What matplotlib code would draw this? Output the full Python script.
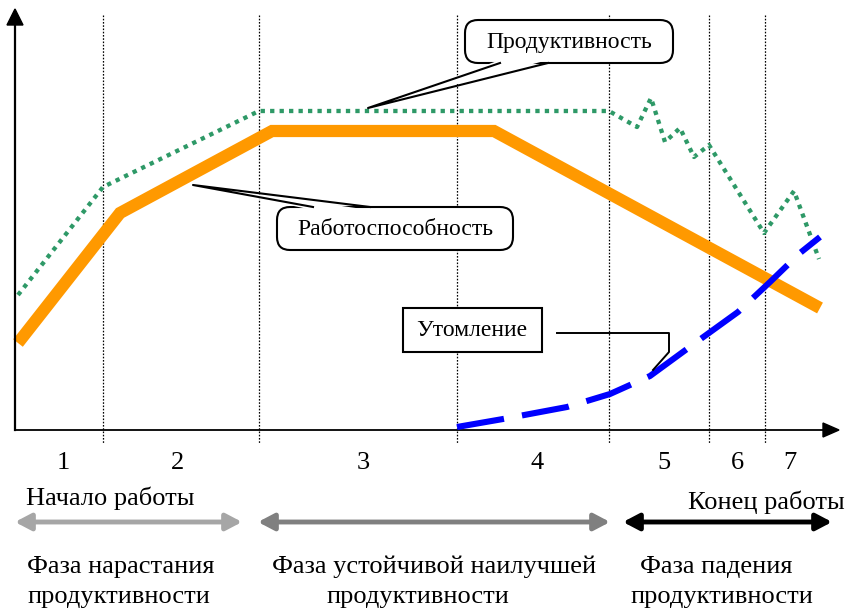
import matplotlib
matplotlib.use("Agg")
import matplotlib.pyplot as plt
from matplotlib.patches import FancyBboxPatch, Polygon, Rectangle
from matplotlib.lines import Line2D

plt.rcParams['font.family'] = ['Liberation Serif', 'DejaVu Serif']

# ---- data (diagram coordinates, pixel-like, y grows downward) ----
work_x = [18, 120, 272, 494, 820]
work_y = [343, 213, 131, 131, 308]

prod_x = [18, 103, 259, 609, 637, 651, 665, 680, 694, 709, 764, 794, 819]
prod_y = [295, 187, 111, 111, 127, 98, 142, 128, 157, 145, 233, 191, 259]

fat_x = [457, 503, 567, 610, 650, 702, 738, 770, 800, 820]
fat_y = [427, 419, 407, 394, 376, 338, 312, 282, 253, 237]

period_bounds = [103, 259, 457, 609, 709, 765]
period_labels = ['1', '2', '3', '4', '5', '6', '7']
period_label_x = [63, 177, 363, 537, 664, 737, 790]

phase_line1 = ['Фаза нарастания', 'Фаза устойчивой наилучшей', 'Фаза падения']
phase_line2 = ['продуктивности', 'продуктивности', 'продуктивности']
phase_spans = [(15, 242), (258, 610), (623, 832)]
phase_colors = ['#a6a6a6', '#808080', '#000000']

label_work = 'Работоспособность'
label_prod = 'Продуктивность'
label_fat = 'Утомление'
label_start = 'Начало работы'
label_end = 'Конец работы'

W, H = 847, 610
fig = plt.figure(figsize=(W / 100, H / 100), dpi=100)
ax = fig.add_axes([0, 0, 1, 1])
ax.set_xlim(0, W)
ax.set_ylim(H, 0)
ax.axis('off')

FS = 17     # callout text
FB = 19     # bottom text
X0, Y0 = 15, 430

# vertical dotted period lines
for xb in period_bounds:
    ax.add_line(Line2D([xb, xb], [15, 443], color='black', lw=0.9,
                       dashes=(1.3, 1.3), zorder=1))

# axes
ax.add_line(Line2D([X0, X0], [Y0, 24], color='black', lw=1.6, zorder=5))
ax.add_patch(Polygon([[X0, 9], [X0 - 8, 25], [X0 + 8, 25]], closed=True,
                     color='black', zorder=5))
ax.add_line(Line2D([X0, 824], [Y0, Y0], color='black', lw=1.3, zorder=5))
ax.add_patch(Polygon([[839, Y0], [823, Y0 - 7], [823, Y0 + 7]], closed=True,
                     color='black', zorder=5))

# curves
ax.plot(prod_x, prod_y, color='#2e9967', lw=3.1, dashes=(1.0, 1.2),
        solid_capstyle='butt', dash_capstyle='butt', zorder=3)
ax.plot(work_x, work_y, color='#ff9900', lw=8.8,
        solid_capstyle='butt', solid_joinstyle='miter', zorder=4)
ax.plot(fat_x, fat_y, color='#0000ff', lw=4.4, dashes=(7.8, 3.0),
        dash_capstyle='butt', zorder=6)


def callout(x0, y0, x1, y1, base_a, base_b, tip, text, base_y):
    box = FancyBboxPatch((x0, y0), x1 - x0, y1 - y0,
                         boxstyle='round,pad=0,rounding_size=13',
                         facecolor='white', edgecolor='black', lw=1.5,
                         zorder=8)
    ax.add_patch(box)
    inner = 3 if base_y == y1 else -3
    ax.add_patch(Polygon([[base_a, base_y - inner], [base_b, base_y - inner],
                          [tip[0], tip[1]]], closed=True,
                         facecolor='white', edgecolor='none', zorder=9))
    ax.add_line(Line2D([base_a, tip[0], base_b], [base_y, tip[1], base_y],
                       color='black', lw=1.5, zorder=10))
    ax.text((x0 + x1) / 2, (y0 + y1) / 2 + 1, text, fontsize=FS,
            ha='center', va='center', zorder=11)


callout(465, 20, 673, 63, 500, 548, (368, 108), label_prod, 63)
callout(277, 207, 513, 250, 313, 370, (193, 185), label_work, 207)

# fatigue label box
ax.add_patch(Rectangle((403, 308), 139, 44, facecolor='white',
                       edgecolor='black', lw=1.5, zorder=8))
ax.text(472, 331, label_fat, fontsize=FS, ha='center', va='center', zorder=11)
ax.add_line(Line2D([557, 669, 669, 653], [333, 333, 352, 370],
                   color='black', lw=1.4, zorder=10))

# period numbers
for lx, lab in zip(period_label_x, period_labels):
    ax.text(lx, 463, lab, fontsize=FB, ha='center', va='center')

ax.text(26, 498, label_start, fontsize=FB, ha='left', va='center')
ax.text(845, 502, label_end, fontsize=FB, ha='right', va='center')

# phase arrows
for (a, b), c in zip(phase_spans, phase_colors):
    ax.annotate('', xy=(b, 522), xytext=(a, 522),
                arrowprops=dict(arrowstyle='<|-|>,head_length=0.95,head_width=0.5',
                                color=c, lw=3.5, shrinkA=0, shrinkB=0))

# phase captions
ax.text(27, 567, phase_line1[0], fontsize=FB, ha='left', va='center')
ax.text(27, 597, phase_line2[0], fontsize=FB, ha='left', va='center')
ax.text(434, 567, phase_line1[1], fontsize=FB, ha='center', va='center')
ax.text(418, 597, phase_line2[1], fontsize=FB, ha='center', va='center')
ax.text(640, 567, phase_line1[2], fontsize=FB, ha='left', va='center')
ax.text(722, 597, phase_line2[2], fontsize=FB, ha='center', va='center')

fig.savefig('out.png', dpi=100)
